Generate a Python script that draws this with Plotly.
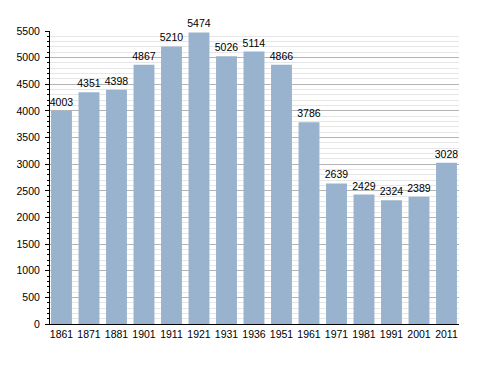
import plotly.graph_objects as go

years = ["1861", "1871", "1881", "1901", "1911", "1921", "1931", "1936",
         "1951", "1961", "1971", "1981", "1991", "2001", "2011"]
population = [4003, 4351, 4398, 4867, 5210, 5474, 5026, 5114,
              4866, 3786, 2639, 2429, 2324, 2389, 3028]

FONT = "Liberation Sans, Arial, sans-serif"

fig = go.Figure(go.Bar(
    x=years, y=population,
    marker=dict(color="#99b2cd", line=dict(width=0)),
    width=0.76,
    text=[str(v) for v in population],
    textposition="outside",
    constraintext="none",
    textfont=dict(family=FONT, size=10.5, color="#000"),
    cliponaxis=False,
))

fig.update_layout(
    width=488, height=373,
    margin=dict(l=50, r=29, t=31, b=49),
    paper_bgcolor="white", plot_bgcolor="white",
    showlegend=False,
    font=dict(family=FONT, size=10.5, color="#000"),
    xaxis=dict(
        type="category", range=[-0.418, 14.455],
        showline=True, linecolor="#000", linewidth=1,
        ticks="", showgrid=False, automargin=False,
        tickfont=dict(size=10.5),
    ),
    yaxis=dict(
        range=[0, 5500], dtick=500, tick0=0,
        showline=True, linecolor="#000", linewidth=1,
        ticks="outside", ticklen=4, tickcolor="#000",
        gridcolor="#b4b4b4", gridwidth=1,
        zeroline=False, automargin=False,
        ticklabelstandoff=3,
        tickfont=dict(size=10.5),
        minor=dict(dtick=100, showgrid=True, gridcolor="#e6e6e6",
                   ticks="outside", ticklen=2, tickcolor="#000"),
    ),
)

fig.write_html("out.html", config={"displayModeBar": False},
               post_script="document.body.style.margin='0';document.body.style.padding='0';")
